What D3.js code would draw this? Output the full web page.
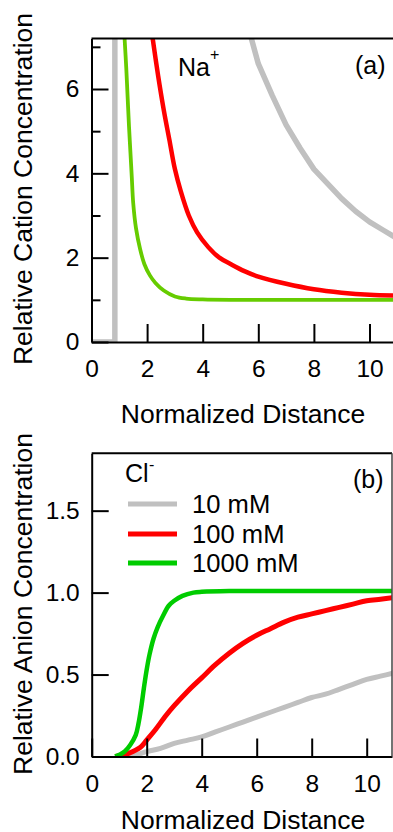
<!DOCTYPE html>
<html>
<head>
<meta charset="utf-8">
<script src="https://cdn.jsdelivr.net/npm/d3@7"></script>
<style>
    body { margin: 0; background: #fff; }
    svg { display: block; font-family: "Liberation Sans", Arial, sans-serif; }
    .axis path, .axis line { stroke: #000; stroke-width: 2; }
    .axis text { font-size: 24.5px; fill: #000; font-family: "Liberation Sans", Arial, sans-serif; }
    .title { font-size: 26.5px; fill: #000; }
    .note { font-size: 25px; fill: #000; }
</style>
</head>
<body>
<svg id="chart" width="393" height="832"></svg>
<script>
// 数据：从图上读出的 [归一化距离, 相对浓度]
const seriesNames = ["10 mM", "100 mM", "1000 mM"];
const xTicks = [0, 2, 4, 6, 8, 10];
const cationTicks = [0, 2, 4, 6];
const cationMinorTicks = [1, 3, 5, 7];
const anionTicks = [0, 0.5, 1.0, 1.5];

// (a) Na+  —— null 表示超出纵轴上限
const cation10 = [[0, 0], [0.84, 0], [0.84, 7.2], [0.84, null],
    [5.75, 7.2], [6.0, 6.6], [6.5, 5.85], [7.0, 5.15], [7.5, 4.6], [8.0, 4.1],
    [8.5, 3.75], [9.0, 3.4], [9.5, 3.1], [10.0, 2.85], [10.5, 2.65], [11.0, 2.45]];
const cation100 = [[2.2, 7.2], [2.4, 6.3], [2.6, 5.5], [2.8, 4.8], [3.0, 4.1], [3.2, 3.6],
    [3.5, 3.0], [3.8, 2.6], [4.2, 2.25], [4.6, 2.0], [5.0, 1.85], [5.5, 1.68], [6.0, 1.55],
    [7.0, 1.38], [8.0, 1.25], [9.0, 1.17], [10.0, 1.12], [11.0, 1.1]];
const cation1000 = [[1.19, 7.2], [1.25, 6.5], [1.3, 5.8], [1.35, 5.1], [1.4, 4.5], [1.45, 3.9],
    [1.5, 3.3], [1.6, 2.7], [1.75, 2.2], [1.9, 1.85], [2.1, 1.58], [2.3, 1.4], [2.6, 1.22],
    [3.0, 1.08], [3.4, 1.03], [4.0, 1.01], [5.0, 1.0], [6.0, 1.0], [7.0, 1.0], [8.0, 1.0],
    [9.0, 1.0], [10.0, 1.0], [11.0, 1.0]];

// (b) Cl-
const anion10 = [[0.85, 0], [1.2, 0], [1.6, 0.01], [2.0, 0.03], [2.5, 0.05], [3.0, 0.08],
    [3.5, 0.1], [4.0, 0.12], [4.5, 0.15], [5.0, 0.18], [5.5, 0.21], [6.0, 0.24], [6.5, 0.27],
    [7.0, 0.3], [7.5, 0.33], [8.0, 0.36], [8.5, 0.38], [9.0, 0.41], [9.5, 0.44], [10.0, 0.47],
    [10.5, 0.49], [11.0, 0.51]];
const anion100 = [[0.85, 0], [1.2, 0.01], [1.5, 0.03], [1.8, 0.06], [2.0, 0.1], [2.3, 0.16],
    [2.7, 0.25], [3.0, 0.31], [3.5, 0.4], [4.0, 0.48], [4.5, 0.56], [5.0, 0.63], [5.5, 0.69],
    [6.0, 0.74], [6.5, 0.78], [7.0, 0.82], [7.5, 0.85], [8.0, 0.87], [8.5, 0.89], [9.0, 0.91],
    [9.5, 0.93], [10.0, 0.95], [10.5, 0.96], [11.0, 0.97]];
const anion1000 = [[0.85, 0], [1.0, 0.01], [1.2, 0.03], [1.4, 0.07], [1.6, 0.13], [1.7, 0.2],
    [1.8, 0.3], [1.9, 0.42], [2.0, 0.53], [2.1, 0.62], [2.25, 0.72], [2.4, 0.79], [2.6, 0.86],
    [2.8, 0.92], [3.0, 0.95], [3.3, 0.98], [3.7, 1.0], [4.0, 1.005], [5.0, 1.01], [6.0, 1.01],
    [7.0, 1.01], [8.0, 1.01], [9.0, 1.01], [10.0, 1.01], [11.0, 1.01]];

const svg = d3.select("#chart");

function drawPanel(cfg) {
    const x = d3.scaleLinear().domain(cfg.xDomain).range(cfg.xRange);
    const y = d3.scaleLinear().domain(cfg.yDomain).range(cfg.yRange);
    const g = svg.append("g");

    // 裁剪区域，让超出上限的曲线被截掉
    g.append("clipPath").attr("id", cfg.id + "-clip")
        .append("rect")
        .attr("x", x.range()[0]).attr("y", y.range()[1])
        .attr("width", x.range()[1] - x.range()[0])
        .attr("height", y.range()[0] - y.range()[1]);

    const curves = g.append("g").attr("clip-path", `url(#${cfg.id}-clip)`);
    cfg.series.forEach(s => {
        // 有直角拐点的曲线用折线，其余用平滑曲线
        const line = d3.line()
            .defined(d => d[1] != null)
            .curve(s.linear ? d3.curveLinear : d3.curveCatmullRom.alpha(0.5))
            .x(d => x(d[0]))
            .y(d => y(d[1]));
        curves.append("path")
            .datum(s.data)
            .attr("fill", "none")
            .attr("stroke", s.color)
            .attr("stroke-width", s.width)
            .attr("stroke-linejoin", "round")
            .attr("d", line);
    });

    // 坐标轴（刻度朝内）
    g.append("g").attr("class", "axis")
        .attr("transform", `translate(0,${y.range()[0]})`)
        .call(d3.axisBottom(x).tickValues(xTicks).tickSizeInner(-18).tickSizeOuter(0).tickPadding(18));
    g.append("g").attr("class", "axis")
        .attr("transform", `translate(${x.range()[0]},0)`)
        .call(d3.axisLeft(y).tickValues(cfg.yTicks).tickFormat(cfg.yFormat)
            .tickSizeInner(-17).tickSizeOuter(0).tickPadding(12));
    if (cfg.yMinor) {
        g.append("g").attr("class", "axis")
            .attr("transform", `translate(${x.range()[0]},0)`)
            .call(d3.axisLeft(y).tickValues(cfg.yMinor).tickFormat("").tickSizeInner(-9).tickSizeOuter(0))
            .select(".domain").remove();
    }

    // 顶部和右侧框线
    g.append("line")
        .attr("x1", x.range()[0]).attr("x2", x.range()[1])
        .attr("y1", y.range()[1]).attr("y2", y.range()[1])
        .attr("stroke", "#000").attr("stroke-width", 2);
    if (cfg.rightFrame) {
        g.append("line")
            .attr("x1", x.range()[1]).attr("x2", x.range()[1])
            .attr("y1", y.range()[1]).attr("y2", y.range()[0])
            .attr("stroke", "#444").attr("stroke-width", 1.5);
    }

    // 轴标题
    g.append("text").attr("class", "title")
        .attr("x", 243).attr("y", cfg.xTitleY)
        .attr("text-anchor", "middle")
        .text("Normalized Distance");
    g.append("text").attr("class", "title")
        .attr("transform", `translate(32,${cfg.yTitleMid}) rotate(-90)`)
        .attr("text-anchor", "middle")
        .text(cfg.yTitle);

    return { x, y, g };
}

const a = drawPanel({
    id: "pa",
    xDomain: [0, 11], xRange: [91.5, 397.3],
    yDomain: [0, 7.2], yRange: [342, 38.4],
    yTicks: cationTicks, yMinor: cationMinorTicks, yFormat: d3.format("d"),
    xTitleY: 423, yTitleMid: 189,
    yTitle: "Relative Cation Concentration",
    series: [
        { data: cation1000, color: "#66cc00", width: 3.8 },
        { data: cation100, color: "#ff0000", width: 4.5 },
        { data: cation10, color: "#c0c0c0", width: 5.5, linear: true }
    ]
});

a.g.append("text").attr("class", "note").attr("x", 178).attr("y", 76).text("Na");
a.g.append("text").attr("x", 210).attr("y", 60).attr("font-size", 16).text("+");
a.g.append("text").attr("class", "note").attr("x", 355).attr("y", 74).text("(a)");

const b = drawPanel({
    id: "pb",
    xDomain: [0, 10.92], xRange: [91.7, 392],
    yDomain: [0, 1.85], yRange: [756.5, 453.3],
    yTicks: anionTicks, yFormat: d3.format(".1f"),
    xTitleY: 829, yTitleMid: 604, rightFrame: true,
    yTitle: "Relative Anion Concentration",
    series: [
        { data: anion10, color: "#c0c0c0", width: 5 },
        { data: anion100, color: "#ff0000", width: 5 },
        { data: anion1000, color: "#00cc00", width: 4.5 }
    ]
});

b.g.append("text").attr("class", "note").attr("x", 353).attr("y", 488).text("(b)");
b.g.append("text").attr("class", "note").attr("x", 125).attr("y", 482).text("Cl");
b.g.append("text").attr("x", 149).attr("y", 470).attr("font-size", 16).text("-");

// 图例
const legendColors = ["#c0c0c0", "#ff0000", "#00cc00"];
const legendY = [504, 534, 563];
const legend = b.g.append("g");
seriesNames.forEach((name, i) => {
    legend.append("line")
        .attr("x1", 128).attr("x2", 177)
        .attr("y1", legendY[i]).attr("y2", legendY[i])
        .attr("stroke", legendColors[i]).attr("stroke-width", 5);
    legend.append("text")
        .attr("x", 192).attr("y", legendY[i] + 9)
        .attr("font-size", 25.6)
        .text(name);
});
</script>
</body>
</html>
